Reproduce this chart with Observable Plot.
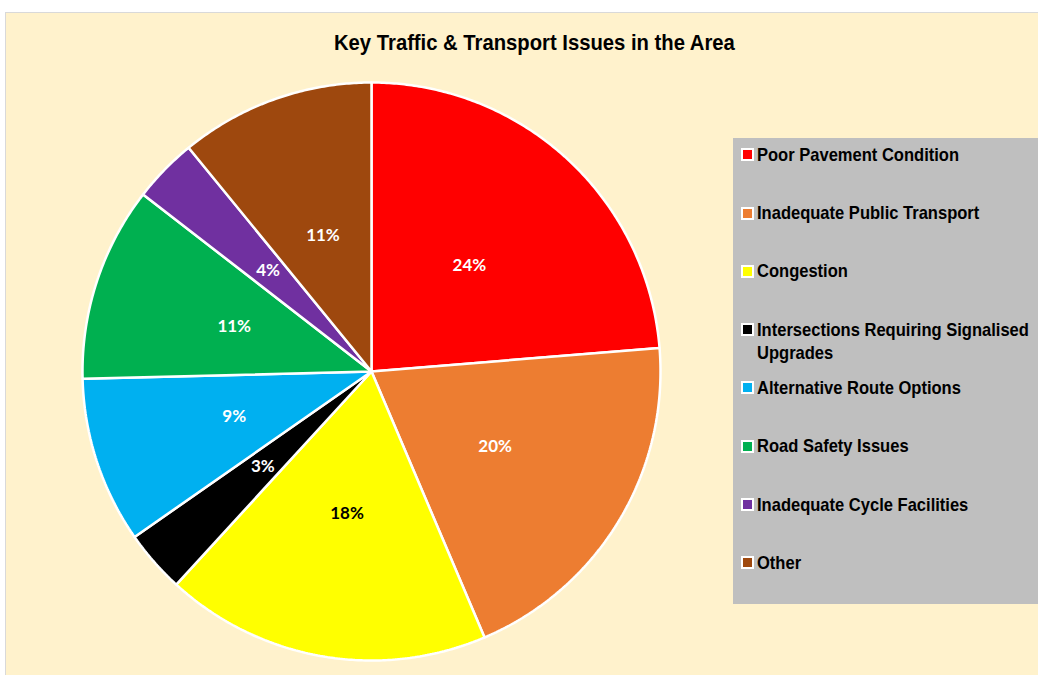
<!DOCTYPE html>
<html><head><meta charset="utf-8">
<script src="https://cdn.jsdelivr.net/npm/d3@7"></script>
<script src="https://cdn.jsdelivr.net/npm/@observablehq/plot@0.6"></script>
<style>
html,body{margin:0;padding:0;background:#fff;width:1038px;height:675px;overflow:hidden;position:relative;}
#frame{position:absolute;left:5px;top:12px;width:1040px;height:670px;background:#FFF2CC;border-left:1px solid #D9D9D9;border-top:1px solid #D9D9D9;}
#title{position:absolute;left:334px;top:31px;white-space:nowrap;transform:scaleX(0.92);transform-origin:left center;font:bold 22px/24px "Liberation Sans",Arial,sans-serif;color:#000;}
#legend{position:absolute;left:733px;top:138px;width:310px;height:466px;background:#BFBFBF;}
.item{position:absolute;left:24px;width:330px;transform:scaleX(0.87);transform-origin:left top;font:bold 19px/23px "Liberation Sans",Arial,sans-serif;color:#000;}
.sw{position:absolute;left:8px;width:9px;height:9px;border:2px solid #fff;}
#pie{position:absolute;left:71px;top:71px;}
</style></head>
<body>
<div id="frame"></div>
<div id="title">Key Traffic &amp; Transport Issues in the Area</div>
<div id="legend"></div>
<div id="pie"></div>
<script>
const categories = ["Poor Pavement Condition","Inadequate Public Transport","Congestion","Intersections Requiring Signalised Upgrades","Alternative Route Options","Road Safety Issues","Inadequate Cycle Facilities","Other"];
const values = [23.7, 19.9, 18.2, 3.49, 9.3, 10.9, 3.6, 10.9];
const colors = ["#FF0000","#ED7D31","#FFFF00","#000000","#00B0F0","#00B050","#7030A0","#9E480E"];
const labelColors = ["#fff","#fff","#000","#fff","#fff","#fff","#fff","#fff"];

const total = d3.sum(values);
const R = 1;
let acc = 0;
const slices = values.map((v, i) => {
  const a0 = acc / total * 2 * Math.PI;
  acc += v;
  const a1 = acc / total * 2 * Math.PI;
  return {name: categories[i], value: v, color: colors[i], a0, a1, mid: (a0 + a1) / 2, label: Math.round(v / total * 100) + "%", lc: labelColors[i]};
});
const pts = [];
for (const s of slices) {
  pts.push({name: s.name, color: s.color, x: 0, y: 0});
  const n = Math.max(2, Math.ceil((s.a1 - s.a0) / (Math.PI / 360)));
  for (let k = 0; k <= n; k++) {
    const a = s.a0 + (s.a1 - s.a0) * k / n;
    pts.push({name: s.name, color: s.color, x: R * Math.sin(a), y: R * Math.cos(a)});
  }
}
const size = 600, rpx = 289, ext = size / 2 / rpx;
const chart = Plot.plot({
  width: size, height: size, margin: 0,
  x: {domain: [-ext, ext], axis: null},
  y: {domain: [-ext, ext], axis: null},
  style: {background: "transparent", overflow: "visible"},
  marks: [
    Plot.line(pts, {x: "x", y: "y", z: "name", fill: "color", stroke: "#fff", strokeWidth: 2.5, strokeLinejoin: "miter", curve: "linear-closed"}),
    Plot.text(slices, {x: d => 0.5 * R * Math.sin(d.mid), y: d => 0.5 * R * Math.cos(d.mid), text: "label", fill: "lc", fontSize: 17, fontWeight: "bold", fontFamily: "Lato, 'Open Sans', sans-serif"})
  ]
});
document.getElementById("pie").appendChild(chart);

const legend = document.getElementById("legend");
categories.forEach((c, i) => {
  const top = 142.7 + 58.3 * i - 138;
  const it = document.createElement("div");
  it.className = "item";
  it.style.top = top + "px";
  it.textContent = c;
  legend.appendChild(it);
  const sw = document.createElement("div");
  sw.className = "sw";
  sw.style.top = (top + 5.5) + "px";
  sw.style.background = colors[i];
  legend.appendChild(sw);
});
</script>
</body></html>
